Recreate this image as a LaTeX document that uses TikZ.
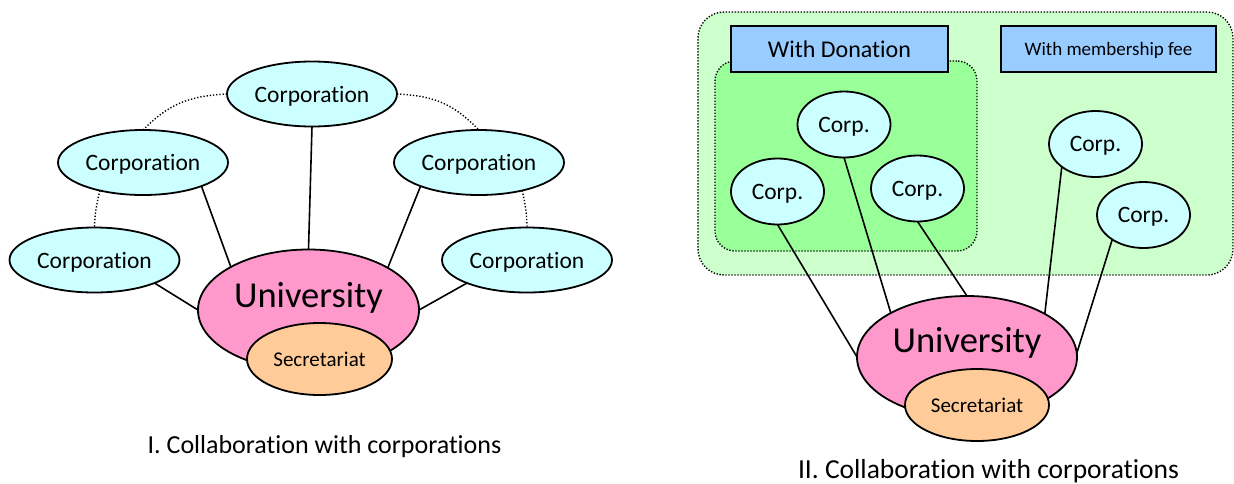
\documentclass[tikz,border=0pt]{standalone}
\usepackage{fontspec}
\setmainfont{Carlito}[Ligatures=NoCommon]
\usetikzlibrary{shapes.geometric}
\definecolor{corpc}{HTML}{CCFFFF}
\definecolor{unic}{HTML}{FF99CC}
\definecolor{secc}{HTML}{FFCC99}
\definecolor{outerg}{HTML}{CCFFCC}
\definecolor{innerg}{HTML}{99FF99}
\definecolor{labc}{HTML}{99CCFF}
\begin{document}
\begin{tikzpicture}[x=1pt,y=-1pt,
  base/.style={draw=black, line width=1.8pt, inner sep=0pt, outer sep=0pt},
  corp/.style={base, ellipse, fill=corpc, minimum width=170pt, minimum height=65pt, text depth=0pt, font=\fontsize{23.5}{28}\selectfont},
  scorp/.style={base, ellipse, fill=corpc, minimum width=93pt, minimum height=66pt, text depth=0pt, font=\fontsize{23.5}{28}\selectfont},
  unibox/.style={base, ellipse, fill=unic, minimum width=221pt, minimum height=121pt},
  unitxt/.style={inner sep=0pt, font=\fontsize{36.5}{42}\selectfont},
  secbox/.style={base, ellipse, fill=secc, minimum width=145pt, minimum height=72pt, font=\fontsize{21}{25}\selectfont},
  conn/.style={line width=1.6pt},
  dots/.style={line width=1.4pt, dash pattern=on 1.3pt off 1.9pt},
  group/.style={draw=black, line width=1.4pt, dash pattern=on 1.3pt off 1.7pt, rectangle, inner sep=0pt, outer sep=0pt},
  labbox/.style={base, rectangle, fill=labc, text depth=0pt},
  caption/.style={inner sep=0pt, anchor=base}
]
\useasboundingbox (0,0) rectangle (1234,483);

% ---------- Diagram I ----------
\node[corp] (tc) at (312,94) {Corporation};
\node[corp] (ul) at (143,162.5) {Corporation};
\node[corp] (ur) at (479,162.5) {Corporation};
\node[corp] (ll) at (94.5,260) {Corporation};
\node[corp] (lr) at (527,260) {Corporation};

\draw[dots] (tc.west) .. controls +(-40,2) and +(25,-25) .. (ul.north);
\draw[dots] (tc.east) .. controls +(40,2) and +(-25,-25) .. (ur.north);
\draw[dots] (ul.213) .. controls +(-3,12) and +(0,-12) .. (ll.north);
\draw[dots] (ur.-33) .. controls +(3,12) and +(0,-12) .. (lr.north);

\node[unibox] (uniL) at (308.5,310) {};

\draw[conn] (tc.south) -- (uniL.north);
\draw[conn] (ul.-22) -- (uniL.151.5);
\draw[conn] (ur.202) -- (uniL.28.5);
\draw[conn] (ll.-21.6) -- (uniL.180);
\draw[conn] (lr.201.6) -- (uniL.0);

\node[unitxt] (uniLt) at ([yshift=12pt]uniL.center) {University};
\node[secbox] (secL) at (319.5,359) {Secretariat};

\node[caption, font=\fontsize{26}{31}\selectfont] (capL) at (324.5,453) {I. Collaboration with corporations};

% ---------- Diagram II ----------
\node[group, fill=outerg, rounded corners=26pt, minimum width=535pt, minimum height=263pt] (outer) at (965.5,143.5) {};
\node[group, fill=innerg, rounded corners=20pt, minimum width=262pt, minimum height=190pt] (inner) at (846,156) {};
\node[labbox, minimum width=217pt, minimum height=46pt, font=\fontsize{24}{29}\selectfont] (don) at (839.5,49) {With Donation};
\node[labbox, minimum width=215pt, minimum height=46pt, font=\fontsize{19}{23}\selectfont] (mem) at (1108.5,49) {With membership fee};

\node[scorp] (c1) at (777.5,191.5) {Corp.};
\node[scorp] (c2) at (844,124.5) {Corp.};
\node[scorp] (c3) at (917.5,188.5) {Corp.};
\node[scorp] (c4) at (1095.5,144) {Corp.};
\node[scorp] (c5) at (1143.5,215) {Corp.};

\node[unibox, minimum width=220pt, minimum height=122pt] (uniR) at (967,357) {};

\draw[conn] (c1.south) -- (uniR.180);
\draw[conn] (c2.south) -- (uniR.150.6);
\draw[conn] (c3.south) -- (uniR.north);
\draw[conn] (c4.214.5) -- (uniR.29.7);
\draw[conn] (c5.218) -- (uniR.2);

\node[unitxt] (uniRt) at ([yshift=14pt]uniR.center) {University};
\node[secbox, minimum width=144pt] (secR) at (977,405) {Secretariat};

\node[caption, font=\fontsize{27.5}{33}\selectfont] (capR) at (988.5,478) {II. Collaboration with corporations};
\end{tikzpicture}
\end{document}
